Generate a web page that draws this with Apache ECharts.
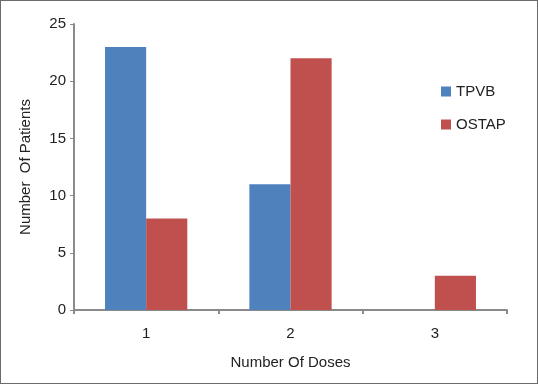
<!DOCTYPE html>
<html><head><meta charset="utf-8">
<script src="https://cdn.jsdelivr.net/npm/echarts@6/dist/echarts.min.js"></script>
<style>html,body{margin:0;padding:0;background:#fff}
#c{width:538px;height:384px;box-sizing:border-box;border:1px solid #6b6b6b}</style>
</head><body><div id="c"></div>
<script>
const categories = ['1', '2', '3'];
const tpvb = [23, 11, 0];
const ostap = [8, 22, 3];
const chart = echarts.init(document.getElementById('c'));
const font = 'Liberation Sans, Arial, sans-serif';
chart.setOption({
  animation: false,
  textStyle: {fontFamily: font},
  grid: {left: 73, top: 23, right: 30, bottom: 73},
  legend: {
    orient: 'vertical', left: 435, top: 78, itemWidth: 10, itemHeight: 10, itemGap: 18,
    icon: 'rect',
    textStyle: {fontSize: 15, color: '#222', fontFamily: font},
    data: ['TPVB', 'OSTAP']
  },
  xAxis: {
    type: 'category', data: categories,
    name: 'Number Of Doses', nameLocation: 'middle', nameGap: 45,
    nameTextStyle: {fontSize: 15, color: '#222'},
    axisLine: {lineStyle: {color: '#8a8a8a', width: 2}},
    axisTick: {show: true, length: 4, lineStyle: {color: '#8a8a8a', width: 2}},
    axisLabel: {fontSize: 15, color: '#222', margin: 16}
  },
  yAxis: {
    type: 'value', min: 0, max: 25, interval: 5,
    name: 'Number  Of Patients', nameLocation: 'middle', nameGap: 41,
    nameTextStyle: {fontSize: 15, color: '#222'},
    axisLine: {show: true, lineStyle: {color: '#8a8a8a', width: 2}},
    axisTick: {show: true, length: 4, lineStyle: {color: '#8a8a8a', width: 1}},
    splitLine: {show: false},
    axisLabel: {fontSize: 15, color: '#222', margin: 8}
  },
  series: [
    {name: 'TPVB', type: 'bar', data: tpvb, barGap: '0%', barCategoryGap: '43%',
     itemStyle: {color: '#4F81BD'}},
    {name: 'OSTAP', type: 'bar', data: ostap,
     itemStyle: {color: '#C0504D'}}
  ]
});
</script></body></html>
